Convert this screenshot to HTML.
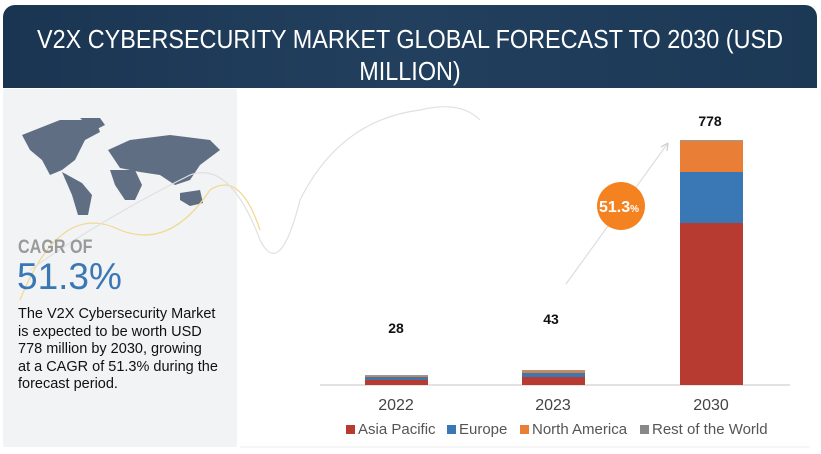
<!DOCTYPE html>
<html><head><style>
body{margin:0;width:821px;height:454px;background:#fff;font-family:"Liberation Sans",sans-serif;overflow:hidden;position:relative}
.hdr{position:absolute;left:3px;top:5px;width:814px;height:83px;border-radius:12px 12px 0 0;background:linear-gradient(90deg,#1a3552,#22405e 50%,#1b3855);overflow:hidden}
.hdr div{position:absolute;left:-60px;right:-60px;top:18px;text-align:center;color:#fff;font-size:26px;line-height:32px;white-space:nowrap;transform:scaleX(0.9);}
.left{position:absolute;left:3px;top:89px;width:234px;height:358px;background:#f2f3f4}
.t{position:absolute}
</style></head><body>
<div class="hdr"><div>V2X CYBERSECURITY MARKET GLOBAL FORECAST TO 2030 (USD<br>MILLION)</div></div>
<div class="left"></div>
<svg width="821" height="454" style="position:absolute;left:0;top:0">
<g fill="#5f6e82">
<path d="M22,135 L60,120 L80,120 L95,118 L100,132 L85,140 L75,160 L62,170 L50,175 L42,160 L30,150 Z"/>
<path d="M80,118 L100,118 L105,125 L95,130 Z"/>
<path d="M62,172 L82,183 L92,195 L88,215 L78,215 L72,195 Z"/>
<path d="M108,150 L130,140 L170,135 L210,140 L220,150 L200,165 L190,180 L175,185 L160,175 L140,172 L120,168 Z"/>
<path d="M110,170 L135,170 L142,185 L135,200 L125,200 L115,185 Z"/>
<path d="M180,193 L200,190 L203,203 L190,206 L180,200 Z"/>
</g>
<path d="M20,300 Q60,200 120,230 Q170,250 210,190 Q240,170 260,230" stroke="#f0d890" fill="none" stroke-width="1.2"/>
<path d="M30,270 Q100,220 190,175 Q230,160 260,240 Q280,280 300,200 Q340,120 420,110 Q460,100 480,120" stroke="#e0e0e0" fill="none" stroke-width="1.2"/>
<line x1="320" y1="385" x2="790" y2="385" stroke="#d9d9d9" stroke-width="1.5"/>
<rect x="365" y="380" width="63" height="5" fill="#b83b32"/>
<rect x="365" y="377" width="63" height="3" fill="#3a78b5"/>
<rect x="365" y="376" width="63" height="1" fill="#e47f3a"/>
<rect x="365" y="375" width="63" height="1" fill="#999"/>
<rect x="522" y="377" width="63" height="8" fill="#b83b32"/>
<rect x="522" y="373" width="63" height="4" fill="#3a78b5"/>
<rect x="522" y="371" width="63" height="2" fill="#e47f3a"/>
<rect x="522" y="370" width="63" height="1" fill="#999"/>
<rect x="680" y="223" width="63" height="162" fill="#b83b32"/>
<rect x="680" y="172" width="63" height="51" fill="#3a78b5"/>
<rect x="680" y="141" width="63" height="31" fill="#e97f37"/>
<rect x="680" y="140" width="63" height="1" fill="#999"/>
<line x1="566" y1="284" x2="668" y2="143" stroke="#ddd" stroke-width="1.2"/>
<path d="M668,143 L661,147 M668,143 L667,151" stroke="#ccc" stroke-width="1.2" fill="none"/>
<circle cx="621" cy="206" r="24" fill="#f58220"/>
<text x="619" y="212" fill="#fff" font-size="16" font-weight="bold" text-anchor="middle" font-family="Liberation Sans">51.3<tspan font-size="10">%</tspan></text>
<g font-size="14" font-weight="bold" text-anchor="middle" fill="#111">
<text x="396" y="333">28</text><text x="551" y="324">43</text><text x="710" y="126">778</text></g>
<g font-size="16" fill="#444" text-anchor="middle"><text x="396" y="410">2022</text><text x="553" y="410">2023</text><text x="711" y="410">2030</text></g>
<g font-size="15" fill="#555">
<rect x="346" y="425" width="9" height="9" fill="#b83b32"/><text x="358" y="434">Asia Pacific</text>
<rect x="447" y="425" width="9" height="9" fill="#3a78b5"/><text x="459" y="434">Europe</text>
<rect x="520" y="425" width="9" height="9" fill="#e97f37"/><text x="532" y="434">North America</text>
<rect x="640" y="425" width="9" height="9" fill="#888"/><text x="652" y="434">Rest of the World</text>
</g>
<line x1="240" y1="447" x2="810" y2="447" stroke="#eee"/>
</svg>
<div class="t" style="left:18px;top:237px;font-size:19px;font-weight:bold;color:#9a9a9a;transform:scaleX(0.85);transform-origin:left">CAGR OF</div>
<div class="t" style="left:17px;top:256px;font-size:37px;color:#3a78b5">51.3%</div>
<div class="t" style="left:18px;top:306px;white-space:nowrap;font-size:14.5px;line-height:17.5px;color:#111">The V2X Cybersecurity Market<br>is expected to be worth USD<br>778 million by 2030, growing<br>at a CAGR of 51.3% during the<br>forecast period.</div>
</body></html>
